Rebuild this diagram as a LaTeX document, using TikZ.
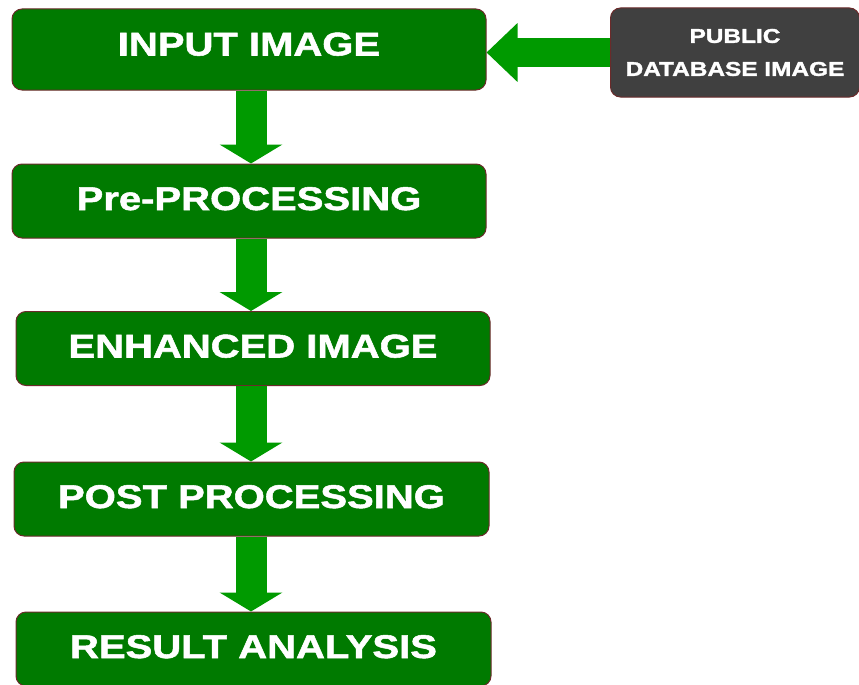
\documentclass[tikz,border=0pt]{standalone}
\usepackage{fontspec}
\setmainfont{Liberation Sans}[FakeStretch=1.22, FakeBold=1.6]
\usepackage{xcolor}
\usepackage{tikz}
\usetikzlibrary{arrows.meta, positioning}

\definecolor{stagegreen}{HTML}{007A00}
\definecolor{flowgreen}{HTML}{009A00}
\definecolor{stageedge}{HTML}{6B2A2A}
\definecolor{sourcegrey}{HTML}{404040}

\begin{document}
\begin{tikzpicture}[x=1pt, y=1pt, node distance=150pt,
    stage/.style={rectangle, rounded corners=10pt, minimum width=474pt, minimum height=74pt, text centered, draw=stageedge, line width=1pt, fill=stagegreen, text=white, text height=24pt, text depth=6pt, font=\bfseries\fontsize{32.8}{38}\selectfont},
    source/.style={rectangle, rounded corners=10pt, minimum width=249pt, minimum height=89pt, align=center, draw=stageedge, line width=1pt, fill=sourcegrey, text=white, font=\bfseries\fontsize{20}{33}\selectfont},
    arrow/.style={flowgreen, line width=31pt, -{Triangle[width=62pt, length=19pt]}},
    sidearrow/.style={flowgreen, line width=29pt, -{Triangle[width=57pt, length=31pt]}}]

\useasboundingbox (0,0) rectangle (859,-685);

\node (input) [stage, minimum height=81pt, text depth=12pt] at (249,-49.5) {INPUT IMAGE};
\node (pre) [stage, below of=input, yshift=-1.5pt] {Pre-PROCESSING};
\node (enhanced) [stage, below of=pre, xshift=4pt, yshift=2.5pt] {ENHANCED IMAGE};
\node (post) [stage, minimum width=475pt, below of=enhanced, xshift=-1.5pt, yshift=-0.5pt] {POST PROCESSING};
\node (result) [stage, minimum width=475pt, below of=post, xshift=2pt] {RESULT ANALYSIS};
\node (public) [source] at (735,-52.5) {PUBLIC\\DATABASE IMAGE};

% block arrows, all on one vertical line
\coordinate (spine) at ([xshift=2pt]input.south);
\draw [sidearrow] (public.west) -- (public.west -| input.east);
\draw [arrow] (spine) -- (spine |- pre.north);
\draw [arrow] (spine |- pre.south) -- (spine |- enhanced.north);
\draw [arrow] (spine |- enhanced.south) -- (spine |- post.north);
\draw [arrow] (spine |- post.south) -- (spine |- result.north);

\end{tikzpicture}
\end{document}
